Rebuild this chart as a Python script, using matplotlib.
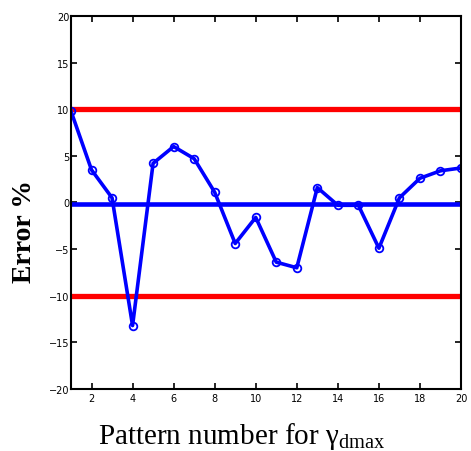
import numpy as np
import matplotlib
matplotlib.use("Agg")
import matplotlib.pyplot as plt

# 資料
pattern = np.arange(1, 21)
error_pct = [9.8, 3.5, 0.5, -13.2, 4.2, 6.0, 4.7, 1.1, -4.4, -1.6,
             -6.4, -7.0, 1.6, -0.3, -0.3, -4.9, 0.5, 2.6, 3.4, 3.7]
limit_upper = 10
limit_lower = -10
mean_line = -0.2

plt.rcParams['mathtext.fontset'] = 'custom'
plt.rcParams['mathtext.rm'] = 'Liberation Serif'

fig = plt.figure(figsize=(4.71, 4.52), dpi=100)
ax = fig.add_axes([0.1507, 0.1372, 0.8281, 0.8252])

ax.axhline(limit_upper, color='red', linewidth=3.8)
ax.axhline(limit_lower, color='red', linewidth=3.8)
ax.axhline(mean_line, color='blue', linewidth=3.3)
ax.plot(pattern, error_pct, color='blue', linewidth=2.6, marker='o',
        markersize=5.5, markerfacecolor='none', markeredgewidth=1.3)

ax.set_xlim(1, 20)
ax.set_ylim(-20, 20)
ax.set_xticks(np.arange(2, 21, 2))
ax.set_yticks(np.arange(-20, 21, 5))
ax.tick_params(direction='in', top=True, right=True, length=4, width=1.2,
               labelsize=7, pad=3)
ax.tick_params(axis='y', pad=1)
for s in ax.spines.values():
    s.set_linewidth(1.5)

ax.set_ylabel('Error %', fontsize=20, fontweight='bold', family='Liberation Serif')
ax.yaxis.set_label_coords(-0.087, 0.426)
ax.set_xlabel(r'Pattern number for $\mathrm{γ}_{\mathrm{dmax}}$', fontsize=21,
              family='Liberation Serif')
ax.xaxis.set_label_coords(0.437, -0.083)

fig.savefig('out.png', dpi=100)
